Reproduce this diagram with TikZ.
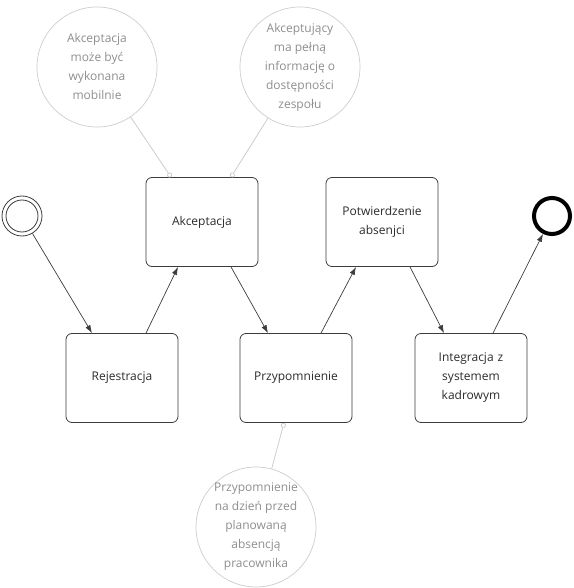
\documentclass[tikz,border=0pt]{standalone}
\usepackage{fontspec}
\setmainfont{Open Sans}
\usepackage{tikz}
\usetikzlibrary{positioning,arrows.meta,calc}
\definecolor{ink}{HTML}{2B2B2B}
\definecolor{edge}{HTML}{3C3C3C}
\definecolor{noteline}{HTML}{CDCDCD}
\definecolor{notetext}{HTML}{8E8E8E}

\begin{document}
\begin{tikzpicture}[
  x=1pt,y=-1pt,
  font=\fontsize{12}{19}\selectfont,
  task/.style={draw=edge,line width=0.8pt,rounded corners=6pt,minimum width=112pt,minimum height=89pt,inner sep=2pt,align=center,text=ink,text width=104pt},
  note/.style={circle,draw=noteline,line width=0.7pt,minimum size=120pt,inner sep=-8pt,align=center,text=notetext},
  flow/.style={-{Latex[length=8pt,width=5.5pt]},line width=0.7pt,edge},
  assoc/.style={noteline,line width=0.8pt,{Circle[open,length=5pt,fill=white]}-}
]
\useasboundingbox (0,0) rectangle (573,588);
% events
\node[circle,draw=edge,line width=0.8pt,minimum size=40pt,inner sep=0pt] (start) at (22,216) {};
\node[circle,draw=edge,line width=0.8pt,minimum size=32pt,inner sep=0pt] at (start) {};
\node[circle,draw=black,line width=4pt,minimum size=36pt,inner sep=0pt] (end) at (552,216) {};
% tasks
\node[task] (akc) at (202,222) {Akceptacja};
\node[task] (pot) at (382,222) {Potwierdzenie\\absenjci};
\node[task] (rej) at (122,378) {Rejestracja};
\node[task] (prz) at (296,378) {Przypomnienie};
\node[task] (int) at (471,378) {Integracja z\\systemem\\kadrowym};
% notes
\node[note] (n1) at (97,67) {Akceptacja\\może być\\wykonana\\mobilnie};
\node[note] (n2) at (300,67) {Akceptujący\\ma pełną\\informację o\\dostępności\\zespołu};
\node[note] (n3) at (256,527) {Przypomnienie\\na dzień przed\\planowaną\\absencją\\pracownika};
% sequence flow
\draw[flow] (start) -- ([xshift=-30pt]rej.north);
\draw[flow] ([xshift=24pt]rej.north) -- ([xshift=-24pt]akc.south);
\draw[flow] ([xshift=29pt]akc.south) -- ([xshift=-28pt]prz.north);
\draw[flow] ([xshift=25pt]prz.north) -- ([xshift=-26pt]pot.south);
\draw[flow] ([xshift=28pt]pot.south) -- ([xshift=-27pt]int.north);
\draw[flow] ([xshift=22pt]int.north) -- (end);
% associations
\draw[assoc] ([xshift=-31pt]akc.north) -- (n1);
\draw[assoc] ([xshift=29pt]akc.north) -- (n2);
\draw[assoc] ([xshift=-12pt]prz.south) -- (n3);
\end{tikzpicture}
\end{document}
